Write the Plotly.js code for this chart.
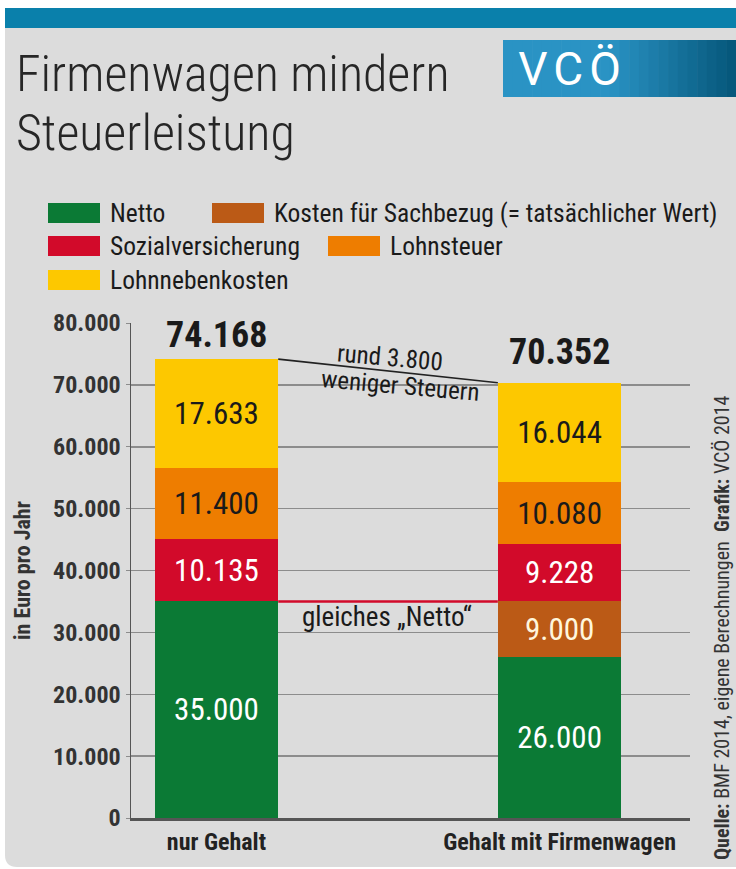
<!DOCTYPE html>
<html><head><meta charset="utf-8">
<script src="https://cdn.plot.ly/plotly-3.0.1.min.js"></script>
<style>html,body{margin:0;padding:0;background:#fff}#chart{width:736px;height:869px}text{font-stretch:75%}
g.annotation[data-index="0"] text{font-stretch:100%;letter-spacing:6px}</style>
</head><body><div id="chart"></div>
<script>
// ---------- data ----------
const categories = ['nur Gehalt', 'Gehalt mit Firmenwagen'];
const seriesNames = ['Netto', 'Kosten für Sachbezug (= tatsächlicher Wert)', 'Sozialversicherung', 'Lohnsteuer', 'Lohnnebenkosten'];
const netto = [35000, 26000];
const sachbezug = [null, 9000];
const sozialversicherung = [10135, 9228];
const lohnsteuer = [11400, 10080];
const lohnnebenkosten = [17633, 16044];
const yTicks = [0, 10000, 20000, 30000, 40000, 50000, 60000, 70000, 80000];
const titleLines = ['Firmenwagen mindern', 'Steuerleistung'];
const logoText = 'VCÖ';
const yAxisTitle = 'in Euro pro Jahr';
const noteTax = ['rund 3.800', 'weniger Steuern'];
const noteNetto = 'gleiches „Netto“';
const sourceText = '<b>Quelle:</b> BMF 2014, eigene Berechnungen  <b>Grafik:</b> VCÖ 2014';

// ---------- style ----------
const COND = 'Roboto, Open Sans, sans-serif';
const BG = '#dcdcdc';
const colors = ['#0b7a35', '#bb5a16', '#d20a2a', '#ee7d00', '#fdc800'];
const textColors = ['#ffffff', '#fff6dc', '#ffffff', '#1a1a1a', '#1a1a1a'];
const series = [netto, sachbezug, sozialversicherung, lohnsteuer, lohnnebenkosten];
const BARW = 0.36;

const W = 736, H = 869, L = 131, R = 690, T = 323, B = 818;
const px = v => (v - L) / (R - L);
const py = v => (B - v) / (B - T);
const fmt = n => String(n).replace(/\B(?=(\d{3})+(?!\d))/g, '.');

const totals = categories.map((c, i) => series.reduce((s, arr) => s + (arr[i] || 0), 0));

const traces = series.map((vals, k) => ({
  type: 'bar', name: seriesNames[k], x: categories, y: vals, width: BARW,
  marker: {color: colors[k], line: {width: 0}},
  texttemplate: '%{y:,d}', textposition: 'inside', insidetextanchor: 'middle',
  textangle: 0, constraintext: 'none',
  textfont: {family: COND, size: 31, color: textColors[k]},
  hoverinfo: 'skip', showlegend: false
}));

const shapes = [];
const annotations = [];
// logo text first (index 0, styled by CSS)
annotations.push({xref: 'paper', yref: 'paper', x: px(572), y: py(69), xanchor: 'center', yanchor: 'middle',
  text: logoText, showarrow: false, font: {family: 'Roboto', size: 46, color: '#ffffff', weight: 400}});

// panel with rounded bottom-left corner
const r = 12;
shapes.push({type: 'path', xref: 'paper', yref: 'paper', layer: 'below', line: {width: 0}, fillcolor: BG,
  path: `M${px(5)},${py(8)} L${px(736)},${py(8)} L${px(736)},${py(867)} L${px(5 + r)},${py(867)} Q${px(5)},${py(867)} ${px(5)},${py(867 - r)} Z`});
// top blue bar
shapes.push({type: 'rect', xref: 'paper', yref: 'paper', layer: 'below', line: {width: 0}, fillcolor: '#0a80ab',
  x0: px(5), x1: px(736), y0: py(8), y1: py(28)});
// logo box (gradient by slices)
const lx0 = 503, lx1 = 736, nS = 24;
for (let i = 0; i < nS; i++) {
  const t = i / (nS - 1);
  const f = Math.max(0, (t - 0.45) / 0.55);
  const c0 = [42, 147, 196], c1 = [6, 88, 124];
  const c = c0.map((v, j) => Math.round(v + (c1[j] - v) * f));
  shapes.push({type: 'rect', xref: 'paper', yref: 'paper', layer: 'below', line: {width: 0},
    fillcolor: `rgb(${c[0]},${c[1]},${c[2]})`,
    x0: px(lx0 + (lx1 - lx0) * i / nS), x1: px(lx0 + (lx1 - lx0) * (i + 1) / nS + 0.6), y0: py(40), y1: py(97)});
}

// title
annotations.push({xref: 'paper', yref: 'paper', x: px(14), y: py(74), xanchor: 'left', yanchor: 'middle',
  text: titleLines[0], showarrow: false, font: {family: COND, size: 50, color: '#262626', weight: 300}});
annotations.push({xref: 'paper', yref: 'paper', x: px(14), y: py(133), xanchor: 'left', yanchor: 'middle',
  text: titleLines[1], showarrow: false, font: {family: COND, size: 50, color: '#262626', weight: 300}});

// legend
const legendPos = [[48, 213], [212, 213], [48, 246], [328, 246], [48, 280]];
[0, 1, 2, 3, 4].forEach((k, i) => {
  const [sx, sy] = legendPos[i];
  shapes.push({type: 'rect', xref: 'paper', yref: 'paper', layer: 'below', line: {width: 0}, fillcolor: colors[k],
    x0: px(sx), x1: px(sx + 52), y0: py(sy - 10), y1: py(sy + 10)});
  annotations.push({xref: 'paper', yref: 'paper', x: px(sx + 60), y: py(sy), xanchor: 'left', yanchor: 'middle',
    text: seriesNames[k], showarrow: false, font: {family: COND, size: 25.5, color: '#1a1a1a'}});
});

// cover for gridline behind the note
shapes.push({type: 'rect', xref: 'paper', yref: 'paper', layer: 'between', line: {width: 0}, fillcolor: BG,
  x0: px(290), x1: px(497), y0: py(391), y1: py(379)});
// connector line between bar tops
shapes.push({type: 'line', xref: 'x', yref: 'y', layer: 'above', line: {color: '#222', width: 1.6},
  x0: 0 + BARW / 2, x1: 1 - BARW / 2, y0: totals[0], y1: totals[1]});
// equal netto line
shapes.push({type: 'line', xref: 'x', yref: 'y', layer: 'above', line: {color: '#d20a2a', width: 2.5},
  x0: 0 + BARW / 2, x1: 1 - BARW / 2, y0: netto[0], y1: netto[0]});

// totals
const totalShift = [24, 31];
totals.forEach((t, i) => {
  annotations.push({xref: 'x', yref: 'y', x: i, y: t, xanchor: 'center', yanchor: 'middle', yshift: totalShift[i],
    text: fmt(t), showarrow: false, bgcolor: BG, borderpad: 1,
    font: {family: COND, size: 36, color: '#1a1a1a', weight: 'bold'}});
});

// notes
annotations.push({xref: 'paper', yref: 'paper', x: px(390), y: py(357), xanchor: 'center', yanchor: 'middle', textangle: 5,
  text: noteTax[0], showarrow: false, font: {family: COND, size: 25, color: '#1a1a1a'}});
annotations.push({xref: 'paper', yref: 'paper', x: px(400), y: py(385), xanchor: 'center', yanchor: 'middle', textangle: 5,
  text: noteTax[1], showarrow: false, font: {family: COND, size: 25, color: '#1a1a1a'}});
annotations.push({xref: 'paper', yref: 'paper', x: px(387), y: py(617), xanchor: 'center', yanchor: 'middle',
  text: noteNetto, showarrow: false, font: {family: COND, size: 27, color: '#1a1a1a'}});

// source
annotations.push({xref: 'paper', yref: 'paper', x: px(722), y: py(628), xanchor: 'center', yanchor: 'middle', textangle: -90,
  text: sourceText, showarrow: false, font: {family: COND, size: 20, color: '#333'}});

const layout = {
  width: W, height: H,
  margin: {l: L, r: W - R, t: T, b: H - B, pad: 0},
  paper_bgcolor: '#ffffff', plot_bgcolor: 'rgba(0,0,0,0)',
  separators: ',.',
  barmode: 'stack',
  showlegend: false,
  xaxis: {type: 'category', range: [-0.249, 1.38], showline: true, linecolor: '#555', linewidth: 3,
    ticks: '', showgrid: false, zeroline: false, fixedrange: true,
    tickfont: {family: COND, size: 24, color: '#222', weight: 'bold'}},
  yaxis: {range: [0, 80000], tickvals: yTicks, tickformat: ',d', showgrid: true, gridcolor: '#8c8c8c', gridwidth: 1.5,
    showline: true, linecolor: '#555', linewidth: 1.5, ticks: 'outside', ticklen: 4, tickcolor: '#8c8c8c',
    zeroline: false, fixedrange: true,
    tickfont: {family: COND, size: 24, color: '#333', weight: 'bold'},
    title: {text: yAxisTitle, standoff: 16, font: {family: COND, size: 22, color: '#333', weight: 'bold'}}},
  shapes: shapes,
  annotations: annotations
};

Plotly.newPlot('chart', traces, layout, {displayModeBar: false, staticPlot: true});
</script>
</body></html>
